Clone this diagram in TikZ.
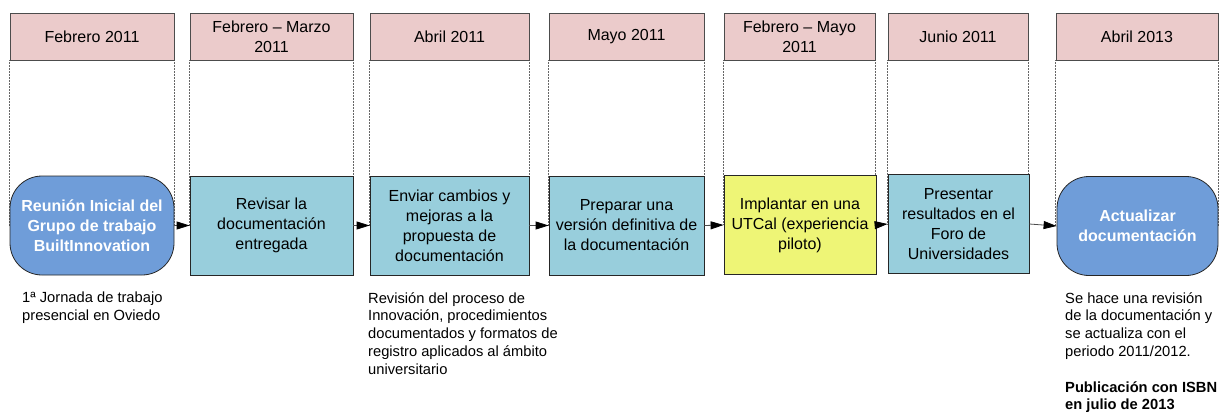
\documentclass[tikz,border=0pt]{standalone}
\usepackage{fontspec}
\setmainfont{Liberation Sans}
\usetikzlibrary{arrows.meta,backgrounds}
\definecolor{hdrpink}{HTML}{EBCBCB}
\definecolor{procblue}{HTML}{98CEDC}
\definecolor{roundblue}{HTML}{6F9DD9}
\definecolor{pilotyellow}{HTML}{EEF576}
\begin{document}
\begin{tikzpicture}[x=1pt,y=-1pt,
  hdr/.style={draw=black!70, line width=0.8pt, fill=hdrpink, minimum height=47pt,
    inner sep=0pt, align=center, font=\fontsize{16}{20}\selectfont},
  proc/.style={draw=black!85, line width=0.8pt, fill=procblue, minimum height=99pt,
    inner sep=0pt, align=center, font=\fontsize{16}{20}\selectfont},
  pilot/.style={proc, fill=pilotyellow},
  term/.style={proc, fill=roundblue, rounded corners=32pt, text=white,
    font=\fontsize{16}{20}\selectfont\bfseries},
  lane/.style={densely dotted, black!60, line width=0.5pt},
  arr/.style={draw=black!70, line width=0.8pt, -{Triangle[length=13pt,width=8pt,color=black]}},
  note/.style={anchor=north west, align=left, inner sep=0pt,
    font=\fontsize{14.7}{17.8}\selectfont}
]
\useasboundingbox (0,0) rectangle (1219,415);

% headers
\node[hdr, minimum width=164pt] (h1) at (92,36.5) {Febrero 2011};
\node[hdr, minimum width=163pt] (h2) at (271.5,36.5) {Febrero – Marzo\\2011};
\node[hdr, minimum width=159pt] (h3) at (449.5,36.5) {Abril 2011};
\node[hdr, minimum width=155pt] (h4) at (626.5,36.5) {Mayo 2011};
\node[hdr, minimum width=151pt] (h5) at (799.5,36.5) {Febrero – Mayo\\2011};
\node[hdr, minimum width=140pt] (h6) at (958,36.5) {Junio 2011};
\node[hdr, minimum width=162pt] (h7) at (1137,36.5) {Abril 2013};

% process steps
\node[term, minimum width=164pt] (p1) at (92,225.5) {Reunión Inicial del\\Grupo de trabajo\\BuiltInnovation};
\node[proc, minimum width=163pt] (p2) at (271.5,225.5) {Revisar la\\documentación\\entregada};
\node[proc, minimum width=159pt] (p3) at (449.5,225.5) {Enviar cambios y\\mejoras a la\\propuesta de\\documentación};
\node[proc, minimum width=155pt] (p4) at (626.5,225.5) {Preparar una\\versión definitiva de\\la documentación};
\node[pilot, minimum width=152pt] (p5) at (800,225) {Implantar en una\\UTCal (experiencia\\piloto)};
\node[proc, minimum width=141pt] (p6) at (958.5,224) {Presentar\\resultados en el\\Foro de\\Universidades};
\node[term, minimum width=161pt] (p7) at (1137.5,226) {Actualizar\\documentación};

% lanes
\begin{scope}[on background layer]
  \foreach \i in {1,...,7}{
    \draw[lane] (h\i.south west) -- (h\i.south west |- p\i.center);
    \draw[lane] (h\i.south east) -- (h\i.south east |- p\i.center);
  }
\end{scope}

% connectors
\draw[arr] (p1.east) -- (p2.west);
\draw[arr] (p2.east) -- (p3.west);
\draw[arr] (p3.east) -- (p4.west);
\draw[arr] (p4.east) -- (p5.west);
\draw[arr] (p5.east) -- (p6.west);
\draw[arr] (p6.east) -- (p7.west);

% notes
\node[note] (n1) at (22,292) {1ª Jornada de trabajo\\presencial en Oviedo};
\node[note] (n2) at (368,292) {Revisión del proceso de\\Innovación, procedimientos\\documentados y formatos de\\registro aplicados al ámbito\\universitario};
\node[note] (n3) at (1065,292) {Se hace una revisión\\de la documentación y\\se actualiza con el\\periodo 2011/2012.\\[17.8pt]\textbf{Publicación con ISBN}\\\textbf{en julio de 2013}};
\end{tikzpicture}
\end{document}
